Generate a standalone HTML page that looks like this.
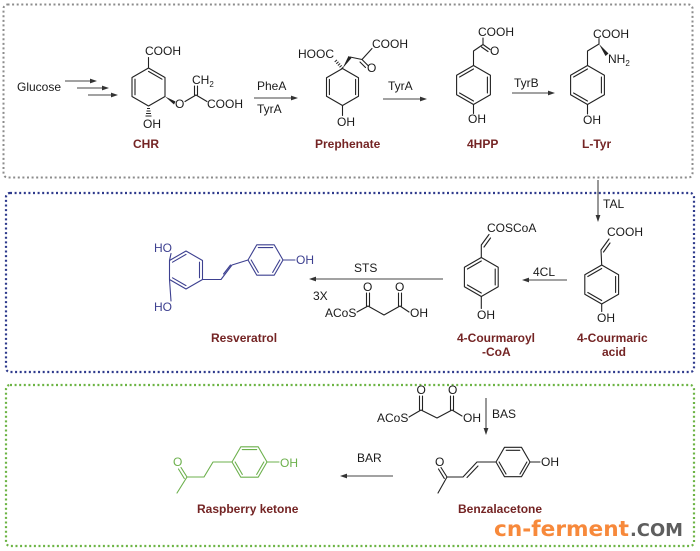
<!DOCTYPE html>
<html><head><meta charset="utf-8"><style>html,body{margin:0;padding:0;background:#fff;width:700px;height:551px;overflow:hidden}</style></head>
<body>
<svg width="700" height="551" viewBox="0 0 700 551" xmlns="http://www.w3.org/2000/svg" font-family="'Liberation Sans', Arial, sans-serif" font-size="12">
<rect x="0" y="0" width="700" height="551" fill="#fff"/>
<!-- borders -->
<rect x="3.5" y="4.5" width="689" height="173" rx="4" fill="none" stroke="#8c8c8c" stroke-width="2" stroke-dasharray="2 2.6"/>
<rect x="6" y="193" width="688" height="179" rx="4" fill="none" stroke="#2e3a8c" stroke-width="2.2" stroke-dasharray="2 2.6"/>
<rect x="6" y="385" width="688" height="161" rx="4" fill="none" stroke="#6cb444" stroke-width="2.2" stroke-dasharray="2 2.6"/>

<!-- black structures -->
<g stroke="#222" stroke-width="1.1" fill="none" stroke-linecap="round" stroke-linejoin="round">
<!-- CHR -->
<path d="M148.5,68 L165,77.5 L165,96.5 L148.5,106 L132,96.5 L132,77.5 Z"/>
<path d="M148.5,71.4 L162,79.2 M135,79.2 L135,94.8"/>
<path d="M148.5,68 L148.5,57.5"/>
<path d="M185,101.5 L196,95 M194.5,95 L194.5,86 M197.5,95 L197.5,86 M196,95 L207,101.5"/>
<!-- Prephenate -->
<path d="M342.5,68.5 L358.5,77.75 L358.5,96.25 L342.5,105.5 L326.5,96.25 L326.5,77.75 Z"/>
<path d="M329.4,79.4 L329.4,94.6 M355.6,79.4 L355.6,94.6"/>
<path d="M342.5,105.5 L342.5,115.5"/>
<path d="M350,57 L362,59.5 L372,48.5 M362,59.5 L368,65.5 M360,62 L365.5,67.5"/>
<!-- 4HPP -->
<path d="M473.5,65.5 L490.4,75.25 L490.4,94.75 L473.5,104.5 L456.6,94.75 L456.6,75.25 Z"/>
<path d="M487.4,77 L487.4,93 M473.5,101 L459.6,93 M459.6,77 L473.5,69"/>
<path d="M473.5,65.5 L473.5,51 L483,44.5 L483,38 M483,44.5 L490,49.5 M481.5,47 L488,51.5"/>
<path d="M473.5,104.5 L473.5,113.5"/>
<!-- L-Tyr -->
<path d="M587.5,65.5 L604.4,75.25 L604.4,94.75 L587.5,104.5 L570.6,94.75 L570.6,75.25 Z"/>
<path d="M601.4,77 L601.4,93 M587.5,101 L573.6,93 M573.6,77 L587.5,69"/>
<path d="M587.5,65.5 L587.5,51 L599,44 L599,38.5"/>
<path d="M587.5,104.5 L587.5,114"/>
<!-- Coumaroyl-CoA -->
<path d="M481.3,257.5 L498.2,267.25 L498.2,286.75 L481.3,296.5 L464.4,286.75 L464.4,267.25 Z"/>
<path d="M495.2,269 L495.2,285 M481.3,293 L467.4,285 M467.4,269 L481.3,261"/>
<path d="M481.3,257.5 L481.3,245 L489,234.5 M484,247 L490.5,238"/>
<path d="M481.3,296.5 L481.3,308.5"/>
<!-- Coumaric acid -->
<path d="M601.7,265 L618.6,274.75 L618.6,294.25 L601.7,304 L584.8,294.25 L584.8,274.75 Z"/>
<path d="M615.6,276.5 L615.6,292.5 M601.7,300.5 L587.8,292.5 M587.8,276.5 L601.7,268.5"/>
<path d="M601.7,265 L601,250 L609,239 M603.5,252 L610,243"/>
<path d="M601.7,304 L601.7,311.5"/>
<!-- malonyl STS -->
<path d="M357,312 L368,306 L384,315 L400,306 L409,312"/>
<path d="M366.5,306 L366.5,293 M369.5,306 L369.5,293 M398.5,306 L398.5,293 M401.5,306 L401.5,293"/>
<!-- malonyl BAS -->
<path d="M409,417 L421,410 L437,418 L452,410 L462,416"/>
<path d="M419.5,410 L419.5,396 M422.5,410 L422.5,396 M450.5,410 L450.5,396 M453.5,410 L453.5,396"/>
<!-- Benzalacetone -->
<path d="M496,462 L504.5,447.3 L521.5,447.3 L530,462 L521.5,476.7 L504.5,476.7 Z"/>
<path d="M506.2,450.3 L519.8,450.3 M526.9,462 L520,474 M506,474 L499.1,462"/>
<path d="M496,462 L477,462 L463,477 L447,477 L438,493 M478,466 L467,477.5"/>
<path d="M447,477 L441,467.5 M444.3,478.4 L438.5,469"/>
<path d="M530,462 L540,462"/>
</g>
<!-- wedges / hashes -->
<polygon points="165,96.5 175.5,101.5 174,104.5" fill="#222"/>
<path d="M147,108.5 h3 M146.5,111 h4 M146,113.5 h5 M145.5,116 h6" stroke="#222" stroke-width="1"/>
<polygon points="342.5,68.5 348.5,56 351.5,58" fill="#222"/>
<path d="M342.5,68.5 L335.5,60.5" stroke="#222" stroke-width="3" stroke-dasharray="1 1.4"/>
<polygon points="599,44 608.5,53.5 605.5,56" fill="#222"/>

<!-- arrows -->
<g stroke="#444" stroke-width="1.1" fill="none">
<path d="M65,81 L93,81 M77,88 L105,88 M88,95 L114,95 M254,98 L292,98 M383,99 L421,99 M512,93 L549,93 M598,180 L598,216 M443,279 L315,279 M567,280 L528,280 M393,476 L346,476 M486,398 L486,429"/>
</g>
<g fill="#333">
<polygon points="97,81 90,78.6 90,83.4"/>
<polygon points="109,88 102,85.6 102,90.4"/>
<polygon points="118,95 111,92.6 111,97.4"/>
<polygon points="298,98 291,95.6 291,100.4"/>
<polygon points="427,99 420,96.6 420,101.4"/>
<polygon points="555,93 548,90.6 548,95.4"/>
<polygon points="598,222 595.6,215 600.4,215"/>
<polygon points="309,279 316,276.6 316,281.4"/>
<polygon points="522,280 529,277.6 529,282.4"/>
<polygon points="340,476 347,473.6 347,478.4"/>
<polygon points="486,435 483.6,428 488.4,428"/>
</g>

<!-- Resveratrol (navy) -->
<g stroke="#3d4090" stroke-width="1.1" fill="none" stroke-linecap="round" stroke-linejoin="round">
<path d="M186,251 L202.5,260.5 L202.5,279.5 L186,289 L169.5,279.5 L169.5,260.5 Z"/>
<path d="M199.5,262.2 L199.5,277.8 M186,285.6 L172.5,277.8 M172.5,262.2 L186,254.4"/>
<path d="M169.5,260.5 L171,253.5 M169.5,279.5 L171,301"/>
<path d="M202.5,279.5 L221,279.5 L232,265 L248,260 M223.5,274 L230.5,265"/>
<path d="M248,260 L256.75,244.84 L274.25,244.84 L283,260 L274.25,275.16 L256.75,275.16 Z"/>
<path d="M258.3,247.6 L272.7,247.6 M279.85,260 L272.7,272.4 M258.3,272.4 L251.15,260"/>
<path d="M283,260 L295,260"/>
</g>
<!-- Raspberry ketone (green) -->
<g stroke="#6cb04c" stroke-width="1.1" fill="none" stroke-linecap="round" stroke-linejoin="round">
<path d="M232,462 L240.75,446.84 L258.25,446.84 L267,462 L258.25,477.16 L240.75,477.16 Z"/>
<path d="M242.3,449.6 L256.7,449.6 M263.85,462 L256.7,474.4 M242.3,474.4 L235.15,462"/>
<path d="M232,462 L213,462 L204,477 L187,477 L177,493"/>
<path d="M187,477 L181,467.5 M184.3,478.5 L178.5,469"/>
<path d="M267,462 L279,462"/>
</g>

<!-- text black -->
<g fill="#1a1a1a">
<text x="17" y="91">Glucose</text>
<text x="145" y="55">COOH</text>
<text x="192" y="84">CH<tspan font-size="8" dy="3">2</tspan></text>
<text x="175" y="108">O</text>
<text x="207" y="108">COOH</text>
<text x="143" y="128">OH</text>
<text x="257" y="90">PheA</text>
<text x="257" y="113">TyrA</text>
<text x="298" y="58">HOOC</text>
<text x="372" y="48">COOH</text>
<text x="367" y="72">O</text>
<text x="337" y="126">OH</text>
<text x="388" y="90">TyrA</text>
<text x="478" y="36">COOH</text>
<text x="490" y="55">O</text>
<text x="468" y="123">OH</text>
<text x="514" y="87">TyrB</text>
<text x="593" y="38">COOH</text>
<text x="608" y="63">NH<tspan font-size="8" dy="3">2</tspan></text>
<text x="583" y="124">OH</text>
<text x="603" y="208">TAL</text>
<text x="487" y="232">COSCoA</text>
<text x="477" y="319">OH</text>
<text x="607" y="236">COOH</text>
<text x="597" y="322">OH</text>
<text x="533" y="276">4CL</text>
<text x="354" y="272">STS</text>
<text x="313" y="300">3X</text>
<text x="325" y="317">ACoS</text>
<text x="363" y="291">O</text>
<text x="395" y="291">O</text>
<text x="410" y="317">OH</text>
<text x="377" y="422">ACoS</text>
<text x="416.5" y="394">O</text>
<text x="448" y="394">O</text>
<text x="463" y="422">OH</text>
<text x="492" y="418">BAS</text>
<text x="435" y="466">O</text>
<text x="541" y="466">OH</text>
<text x="357" y="462">BAR</text>
</g>
<g fill="#3d4090">
<text x="154" y="252">HO</text>
<text x="154" y="311">HO</text>
<text x="296" y="264">OH</text>
</g>
<g fill="#6cb04c">
<text x="173" y="466">O</text>
<text x="280" y="467">OH</text>
</g>
<!-- labels -->
<g fill="#742424" font-weight="bold">
<text x="133" y="148">CHR</text>
<text x="315" y="148">Prephenate</text>
<text x="467" y="148">4HPP</text>
<text x="582" y="148">L-Tyr</text>
<text x="211" y="342">Resveratrol</text>
<text x="457" y="342">4-Courmaroyl</text>
<text x="482" y="356">-CoA</text>
<text x="577" y="342">4-Courmaric</text>
<text x="602" y="356">acid</text>
<text x="197" y="513">Raspberry ketone</text>
<text x="458" y="513">Benzalacetone</text>
</g>
<!-- watermark -->
<text x="494" y="536" font-family="'DejaVu Sans', 'Liberation Sans', sans-serif" font-weight="bold" font-size="21" fill="#f7893b" textLength="135" lengthAdjust="spacingAndGlyphs">cn-ferment</text>
<text x="630" y="536" font-family="'DejaVu Sans', 'Liberation Sans', sans-serif" font-weight="bold" font-size="18" fill="#5e5e5e" textLength="53" lengthAdjust="spacingAndGlyphs">.COM</text>
</svg>
</body></html>
